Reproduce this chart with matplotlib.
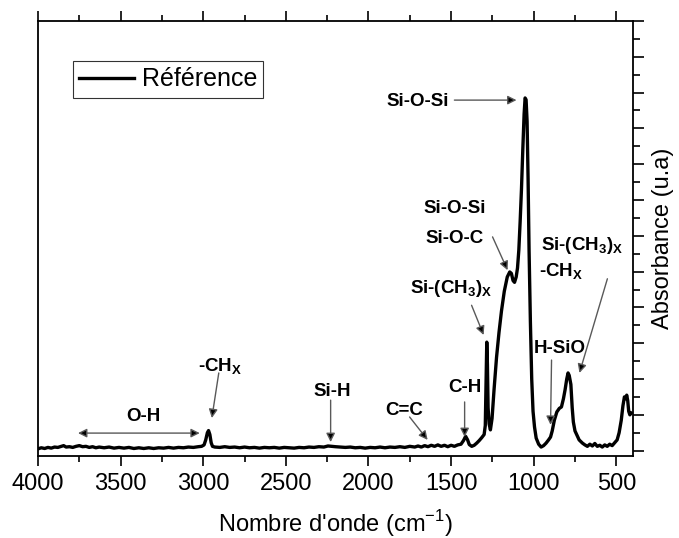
import matplotlib
matplotlib.use("Agg")
import matplotlib.pyplot as plt

plt.rcParams['font.family'] = ['Liberation Sans', 'DejaVu Sans']
plt.rcParams['mathtext.fontset'] = 'custom'
plt.rcParams['mathtext.rm'] = 'Liberation Sans'
plt.rcParams['mathtext.bf'] = 'Liberation Sans:bold'

# spectrum (wavenumber cm-1, absorbance a.u.)
wavenumber = [
    4000, 3980, 3960, 3940, 3920, 3900, 3880, 3860, 3845, 3830, 3810, 3790, 3770, 3750,
    3730, 3710, 3690, 3670, 3650, 3630, 3600, 3570, 3540, 3510, 3480, 3450, 3420, 3390,
    3360, 3330, 3300, 3270, 3240, 3210, 3180, 3150, 3120, 3090, 3060, 3030, 3010, 2995,
    2985, 2975, 2968, 2960, 2952, 2944, 2930, 2900, 2870, 2840, 2810, 2780, 2750, 2720,
    2690, 2660, 2630, 2600, 2570, 2540, 2510, 2480, 2450, 2420, 2390, 2360, 2330, 2300,
    2270, 2245, 2225, 2200, 2170, 2140, 2110, 2080, 2050, 2020, 1990, 1960, 1930, 1900,
    1870, 1840, 1810, 1780, 1750, 1720, 1700, 1680, 1660, 1640, 1620, 1600, 1580, 1560,
    1540, 1520, 1500, 1480, 1460, 1440, 1425, 1412, 1400, 1390, 1375, 1360, 1345, 1330,
    1315, 1300, 1293, 1288, 1284, 1280, 1276, 1270, 1262, 1252, 1240, 1225, 1210, 1195,
    1178, 1160, 1145, 1135, 1125, 1116, 1106, 1098, 1090, 1082, 1074, 1066, 1058, 1052,
    1046, 1040, 1034, 1028, 1020, 1012, 1004, 995, 985, 970, 955, 940, 925, 910,
    898, 888, 875, 860, 845, 832, 820, 810, 800, 792, 785, 775, 767, 760,
    750, 740, 725, 705, 690, 675, 660, 645, 630, 615, 600, 585, 570, 555,
    540, 525, 510, 495, 483, 470, 460, 451, 443, 437, 431, 425, 418, 410,
]
absorbance = [
    0.05, 0.08, 0.06, 0.09, 0.07, 0.10, 0.09, 0.12, 0.14, 0.10, 0.11, 0.09, 0.12, 0.14,
    0.11, 0.12, 0.09, 0.11, 0.08, 0.10, 0.08, 0.10, 0.07, 0.09, 0.07, 0.09, 0.06, 0.08,
    0.06, 0.08, 0.06, 0.08, 0.07, 0.09, 0.07, 0.09, 0.08, 0.10, 0.09, 0.11, 0.12, 0.16,
    0.30, 0.50, 0.56, 0.45, 0.22, 0.12, 0.10, 0.09, 0.11, 0.09, 0.10, 0.08, 0.10, 0.08,
    0.09, 0.07, 0.09, 0.08, 0.09, 0.07, 0.09, 0.08, 0.07, 0.09, 0.08, 0.10, 0.09, 0.11,
    0.10, 0.13, 0.12, 0.11, 0.10, 0.09, 0.10, 0.08, 0.09, 0.07, 0.09, 0.08, 0.10, 0.08,
    0.10, 0.09, 0.11, 0.09, 0.12, 0.10, 0.13, 0.10, 0.14, 0.11, 0.15, 0.12, 0.16, 0.12,
    0.15, 0.11, 0.15, 0.12, 0.16, 0.18, 0.28, 0.40, 0.30, 0.17, 0.12, 0.15, 0.21, 0.28,
    0.36, 0.45, 0.70, 2.00, 3.03, 2.40, 1.20, 0.75, 0.58, 0.90, 1.70, 2.60, 3.30, 3.90,
    4.45, 4.85, 4.99, 4.95, 4.75, 4.70, 4.85, 5.10, 5.60, 6.40, 7.30, 8.40, 9.40, 9.85,
    9.80, 9.20, 7.60, 5.60, 3.60, 2.00, 1.10, 0.66, 0.35, 0.18, 0.10, 0.14, 0.21, 0.30,
    0.38, 0.55, 0.85, 1.08, 1.18, 1.22, 1.45, 1.70, 2.00, 2.17, 2.10, 1.85, 1.20, 0.80,
    0.55, 0.45, 0.30, 0.21, 0.16, 0.12, 0.18, 0.13, 0.20, 0.12, 0.15, 0.10, 0.16, 0.12,
    0.18, 0.14, 0.22, 0.30, 0.50, 0.85, 1.25, 1.50, 1.45, 1.55, 1.40, 1.10, 1.00, 1.05,
]

# band labels: (text, text x, text y, arrow start x, y, arrow end x, y)
bands = [
    ("Si-O-Si", 1703, 9.74, 1480, 9.79, 1104, 9.79),
    ("Si-O-Si\n\nSi-O-C", 1479, 6.35, 1249, 5.97, 1158, 5.04),
    (r"Si-(CH$_\mathbf{3}$)$_\mathbf{X}$", 1497, 4.54, 1376, 4.06, 1303, 3.23),
    ("C-H", 1418, 1.75, 1418, 1.36, 1418, 0.38),
    ("C=C", 1781, 1.13, 1751, 0.94, 1642, 0.30),
    ("Si-H", 2222, 1.64, 2229, 1.41, 2229, 0.24),
    (r"-CH$_\mathbf{X}$", 2900, 2.33, 2906, 2.17, 2948, 0.91),
    (r"Si-(CH$_\mathbf{3}$)$_\mathbf{X}$", 705, 5.74, 554, 4.8, 723, 2.17),
    (r"-CH$_\mathbf{X}$", 832, 4.99, None, None, None, None),
    ("H-SiO", 844, 2.86, 892, 2.53, 898, 0.72),
]

fig = plt.figure(figsize=(6.79, 5.38), dpi=100)
ax = fig.add_axes([0.056, 0.1524, 0.876, 0.8086])

ax.plot(wavenumber, absorbance, color='black', lw=2.4, label='Référence')

ax.set_xlim(4000, 400)
ax.set_ylim(-0.15, 12.0)

for txt, tx, ty, ax0, ay0, ax1, ay1 in bands:
    ax.text(tx, ty, txt, fontsize=13.5, fontweight='bold', ha='center', va='center',
            linespacing=0.85)
    if ax0 is not None:
        ax.annotate('', xy=(ax1, ay1), xytext=(ax0, ay0),
                    arrowprops=dict(arrowstyle='-|>', ec='0.35', fc='black', lw=1.0,
                                    mutation_scale=13, shrinkA=0, shrinkB=0))

# O-H range, double arrow
ax.text(3365, 0.94, "O-H", fontsize=13.5, fontweight='bold', ha='center', va='center')
ax.annotate('', xy=(3758, 0.49), xytext=(3021, 0.49),
            arrowprops=dict(arrowstyle='<|-|>', ec='0.35', fc='black', lw=1.0,
                            mutation_scale=13, shrinkA=0, shrinkB=0))

ax.set_xticks([4000, 3500, 3000, 2500, 2000, 1500, 1000, 500])
ax.set_xticks(list(range(3750, 400, -500)), minor=True)
ax.tick_params(axis='x', which='both', direction='out', top=True, bottom=True,
               labelsize=17, width=1.2, pad=5)
ax.tick_params(axis='x', which='major', length=7)
ax.tick_params(axis='x', which='minor', length=4)

ax.yaxis.tick_right()
ax.set_yticks(range(0, 13))
ax.set_yticks([i + 0.5 for i in range(12)], minor=True)
ax.tick_params(axis='y', which='both', direction='out', left=False, right=True,
               labelright=False, labelleft=False, width=1.2)
ax.tick_params(axis='y', which='major', length=8)
ax.tick_params(axis='y', which='minor', length=5)

for s in ax.spines.values():
    s.set_linewidth(1.3)

ax.set_xlabel("Nombre d'onde (cm$^{\\mathrm{-1}}$)", fontsize=17, labelpad=10)
ax.yaxis.set_label_position('right')
ax.set_ylabel("Absorbance (u.a)", fontsize=17, labelpad=6)

leg = ax.legend(loc='upper left', bbox_to_anchor=(0.059, 0.908), borderaxespad=0,
                fontsize=18, frameon=True, fancybox=False, handlelength=2.2,
                handletextpad=0.3, borderpad=0.25)
leg.get_frame().set_edgecolor('black')
leg.get_frame().set_linewidth(0.8)

fig.savefig("out.png", dpi=100)
